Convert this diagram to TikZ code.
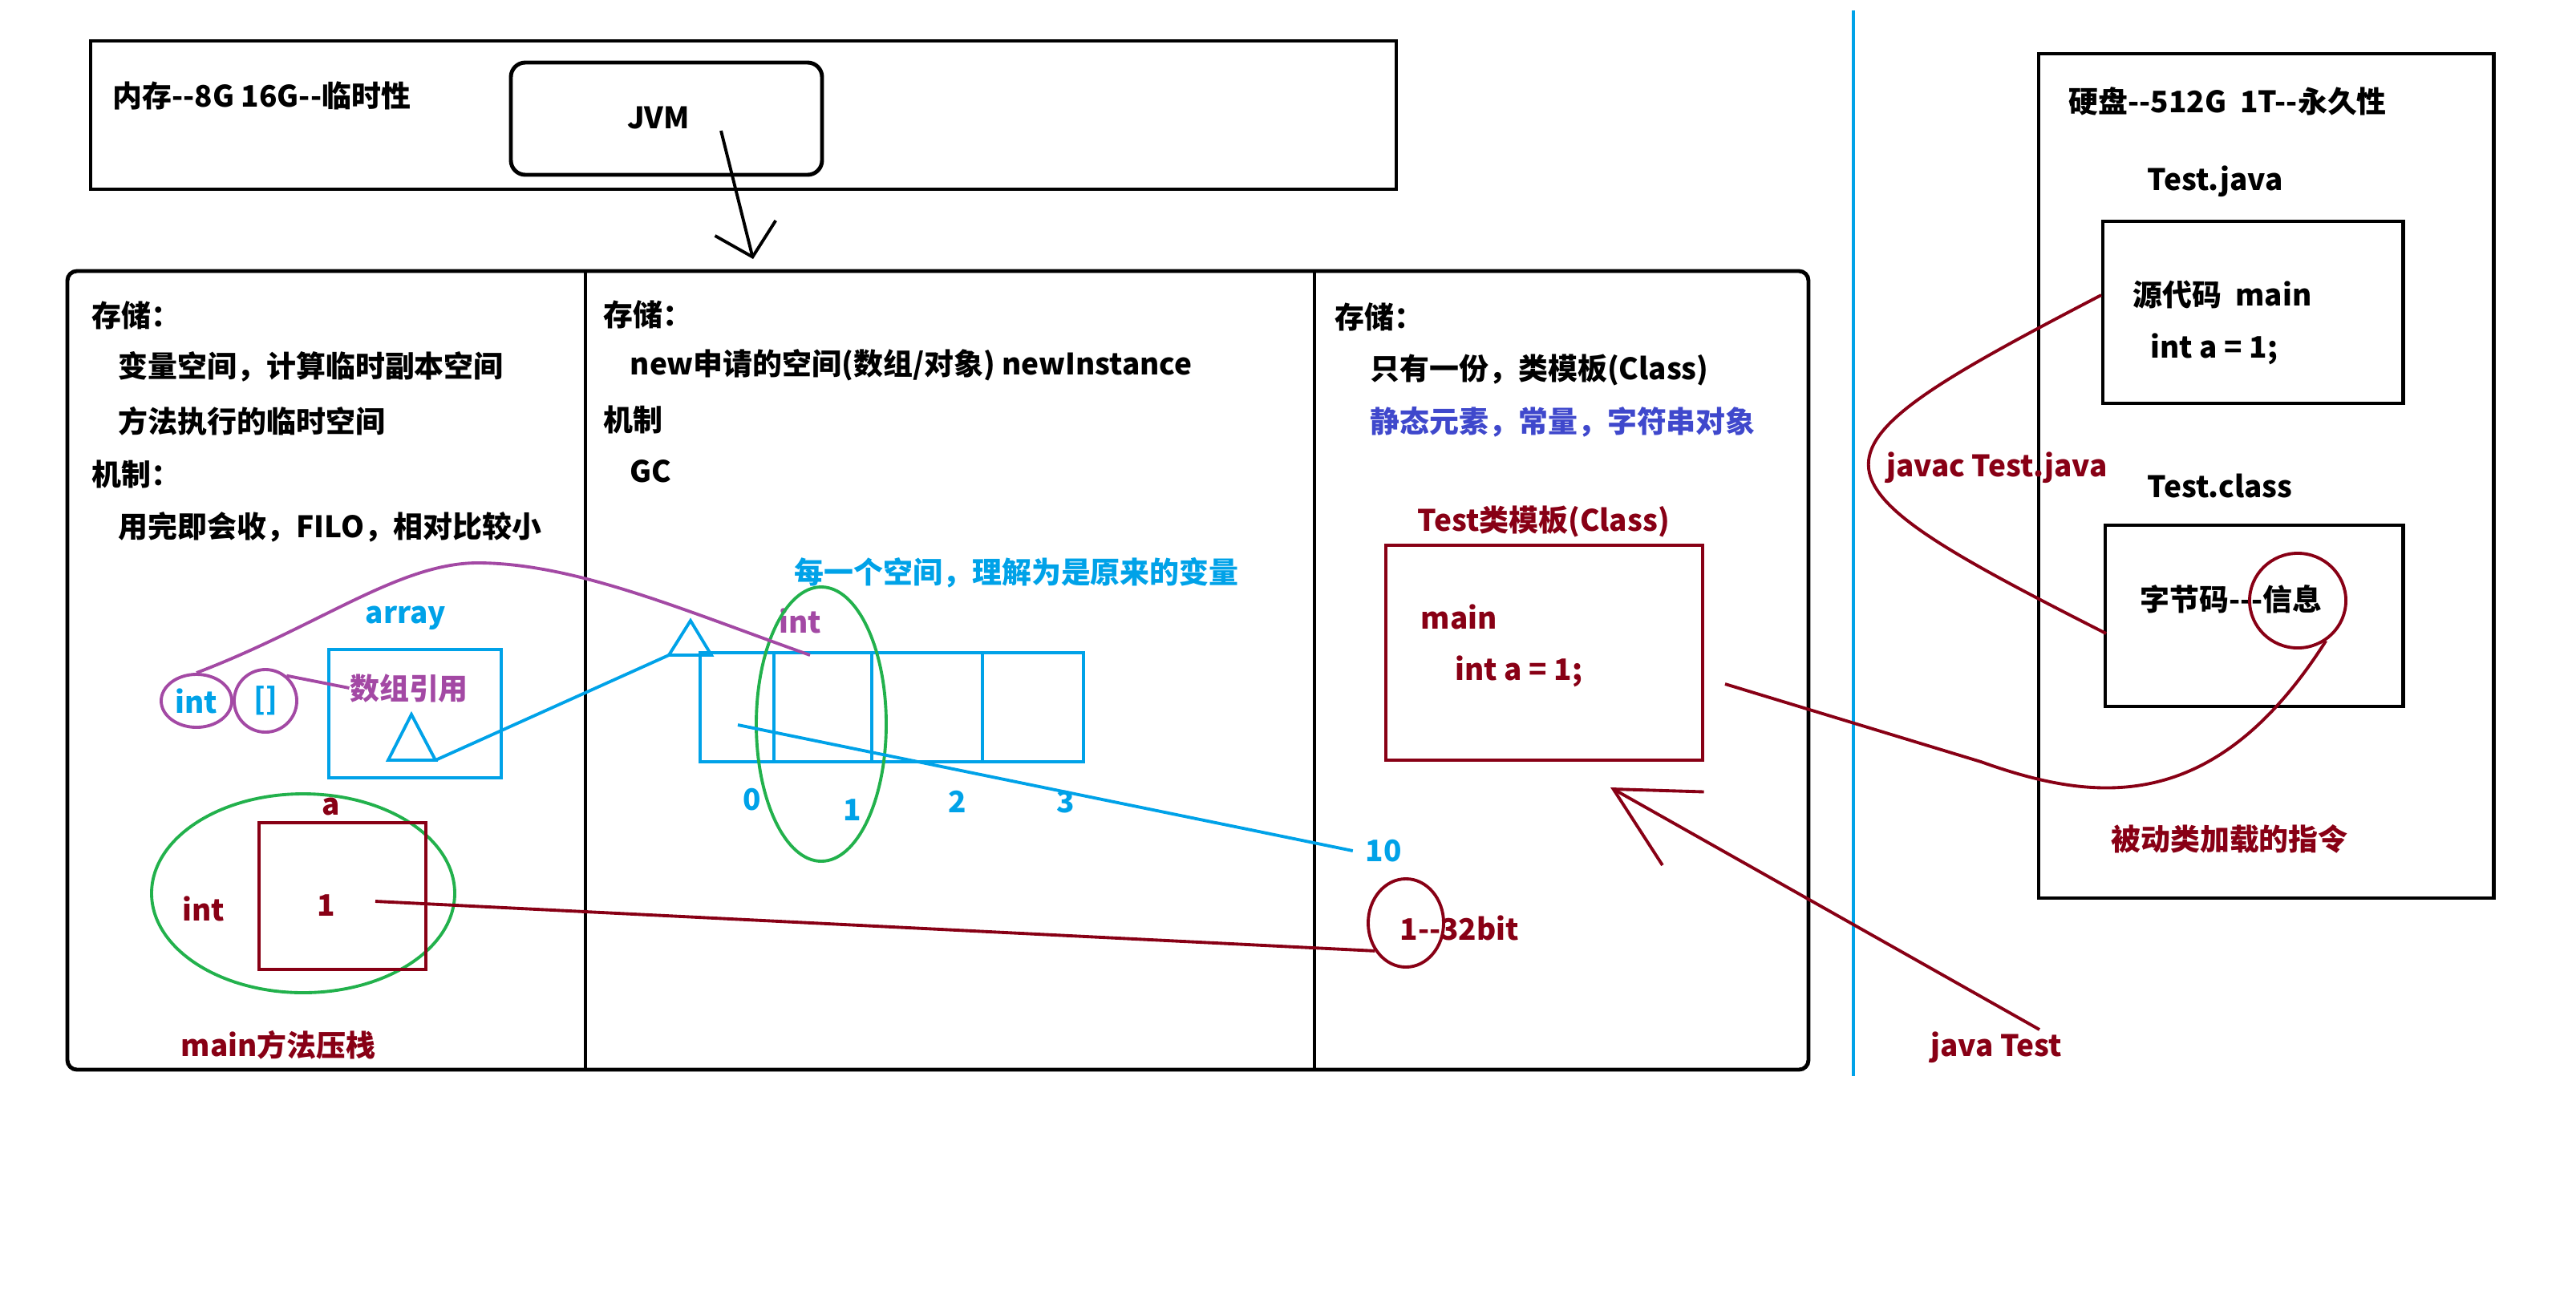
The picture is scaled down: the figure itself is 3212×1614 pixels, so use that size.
\documentclass[tikz,border=0pt]{standalone}
\usepackage{fontspec}
\setmainfont{Noto Sans CJK SC}
\usetikzlibrary{arrows.meta,shapes.geometric}
\definecolor{pblue}{RGB}{0,162,232}
\definecolor{ppurple}{RGB}{163,73,164}
\definecolor{pmaroon}{RGB}{136,0,21}
\definecolor{pgreen}{RGB}{34,177,76}
\definecolor{pindigo}{RGB}{63,72,204}

\begin{document}
\begin{tikzpicture}[x=0.01cm, y=-0.01cm,
    txt/.style={anchor=west, inner sep=0pt, font=\bfseries\fontsize{10.5}{12}\selectfont},
    ctxt/.style={txt, anchor=center},
    bline/.style={line width=1.4pt},
    cline/.style={line width=1.1pt}]
  \useasboundingbox (0,0) rectangle (3212,1614);

  % Memory with the JVM inside
  \draw[bline] (113,51) rectangle (1741,236);
  \draw[bline, rounded corners=0.18cm] (637,78) rectangle (1025,218);
  \node[txt] (mem) at (140,119) {内存-{}-8G 16G-{}-临时性};
  \node[ctxt] (jvm) at (821,147) {JVM};
  \coordinate (jvmtail) at (899,163);
  \coordinate (jvmtip) at (939,323);
  \draw[cline, -{Straight Barb[length=0.37cm, width=0.78cm]}] (jvmtail) -- (jvmtip);

  % Stack, heap, method area
  \draw[bline, rounded corners=0.12cm] (84,338) rectangle (2255,1334);
  \draw[bline] (730,338) -- (730,1334);
  \draw[bline] (1639,338) -- (1639,1334);

  % Stack
  \node[txt] (st1) at (114,393) {存储：};
  \node[txt] (st1a) at (147,457) {变量空间，计算临时副本空间};
  \node[txt] (st1b) at (147,525) {方法执行的临时空间};
  \node[txt] (me1) at (114,591) {机制：};
  \node[txt] (me1a) at (147,657) {用完即会收，FILO，相对比较小};

  \node[ctxt, pblue] (arr) at (506,771) {array};
  \draw[cline, pblue] (410,810) rectangle (625,970);
  \node[ctxt, ppurple] (reftxt) at (510,858) {数组引用};
  \draw[cline, pblue] (513,891) -- (543,948) -- (484,948) -- cycle;
  \coordinate (tria) at (543,948);
  \node[ctxt, pblue, draw=ppurple, cline, ellipse, minimum width=0.88cm, minimum height=0.66cm] (intn) at (245,874) {int};
  \node[ctxt, pblue, draw=ppurple, cline, circle, minimum size=0.78cm] (brk) at (331,874) {[]};
  \draw[cline, ppurple] (brk.50) -- (reftxt.west);

  \draw[cline, pgreen] (378,1114) ellipse [x radius=189, y radius=124];
  \draw[cline, pmaroon] (323,1026) rectangle (531,1209);
  \node[ctxt, pmaroon] (aname) at (413,1006) {a};
  \node[ctxt, pmaroon] (aint) at (254,1133) {int};
  \node[ctxt, pmaroon] (aval) at (407,1129) {1};
  \node[ctxt, pmaroon] (push) at (347,1303) {main方法压栈};
  \coordinate (aline) at (468,1124);

  % Heap
  \node[txt] (st2) at (752,392) {存储：};
  \node[txt] (st2a) at (785,455) {new申请的空间(数组/对象) newInstance};
  \node[txt] (me2) at (752,523) {机制};
  \node[txt] (me2a) at (785,588) {GC};

  \node[txt, pblue] (each) at (990,714) {每一个空间，理解为是原来的变量};
  \node[ctxt, ppurple] (pint) at (998,774) {int};
  \coordinate (pend) at (1010,817);
  \draw[cline, pblue] (873,814) rectangle (1351,950);
  \foreach \x in {965,1087,1225}
    \draw[cline, pblue] (\x,814) -- (\x,950);
  \foreach \x/\y/\i in {938/997/0, 1063/1010/1, 1194/1000/2, 1329/1000/3}
    \node[ctxt, pblue] (idx\i) at (\x,\y) {\i};
  \draw[cline, pblue] (861,774) -- (887,817) -- (834,817) -- cycle;
  \coordinate (trib) at (834,817);
  \draw[cline, pgreen] (1024,903) ellipse [x radius=81, y radius=171];
  \coordinate (cell0) at (920,904);

  % Method area
  \node[txt] (st3) at (1664,395) {存储：};
  \node[txt] (st3a) at (1708,461) {只有一份，类模板(Class)};
  \node[txt, pindigo] (st3b) at (1708,526) {静态元素，常量，字符串对象};
  \node[txt, pmaroon] (tpl) at (1767,650) {Test类模板(Class)};
  \draw[cline, pmaroon] (1728,680) rectangle (2123,948);
  \node[txt, pmaroon] (tmain) at (1771,769) {main};
  \node[txt, pmaroon] (tint) at (1814,837) {int a = 1;};
  \coordinate (tplr) at (2151,853);
  \node[ctxt, pblue] (ten) at (1725,1061) {10};
  \node[txt, pmaroon] (bits) at (1745,1157) {1-{}-32bit};
  \node[draw, pmaroon, cline, ellipse, minimum width=0.94cm, minimum height=1.1cm, inner sep=0pt] (bitc) at (1753,1151) {};

  % links across the areas
  \draw[cline, ppurple] (intn.north) .. controls (400,780) and (500,700) .. (600,702)
    .. controls (720,704) and (850,760) .. (pend);
  \draw[cline, pblue] (tria) -- (trib);
  \draw[cline, pblue] (cell0) -- ([xshift=-0.15cm]ten.west);
  \draw[cline, pmaroon] (aline) -- (bitc.222);

  % Disk
  \draw[line width=1.4pt, pblue] (2311,13) -- (2311,1342);
  \draw[bline] (2542,67) rectangle (3109,1120);
  \node[txt] (disk) at (2579,126) {硬盘-{}-512G\ \ 1T-{}-永久性};
  \node[txt] (jfile) at (2677,226) {Test.java};
  \draw[bline] (2622,276) rectangle (2996,503);
  \node[txt] (src) at (2659,368) {源代码\ \ main};
  \node[txt] (srcint) at (2681,435) {int a = 1;};
  \node[txt] (cfile) at (2677,606) {Test.class};
  \draw[bline] (2625,655) rectangle (2996,881);
  \node[txt] (bytec) at (2668,747) {字节码-{}-{}-信息};
  \node[draw, pmaroon, cline, ellipse, minimum width=1.2cm, minimum height=1.18cm] (infoc) at (2865,749) {};
  \node[ctxt, pmaroon] (load) at (2780,1046) {被动类加载的指令};

  \coordinate (srcl) at (2620,368);
  \coordinate (clsl) at (2626,790);
  \draw[cline, pmaroon] (srcl) .. controls (2232,570) and (2232,590) .. (clsl);
  \node[ctxt, pmaroon] (javac) at (2490,583) {javac Test.java};
  \draw[cline, pmaroon] (tplr) -- (2470,950) .. controls (2610,1000) and (2760,1020) .. (infoc.-55);

  \node[ctxt, pmaroon] (jrun) at (2489,1306) {java Test};
  \coordinate (jtail) at (2543,1284);
  \coordinate (jtip) at (2008,982);
  \draw[cline, pmaroon, -{Straight Barb[length=1cm, width=1.05cm]}] (jtail) -- (jtip);
\end{tikzpicture}
\end{document}
